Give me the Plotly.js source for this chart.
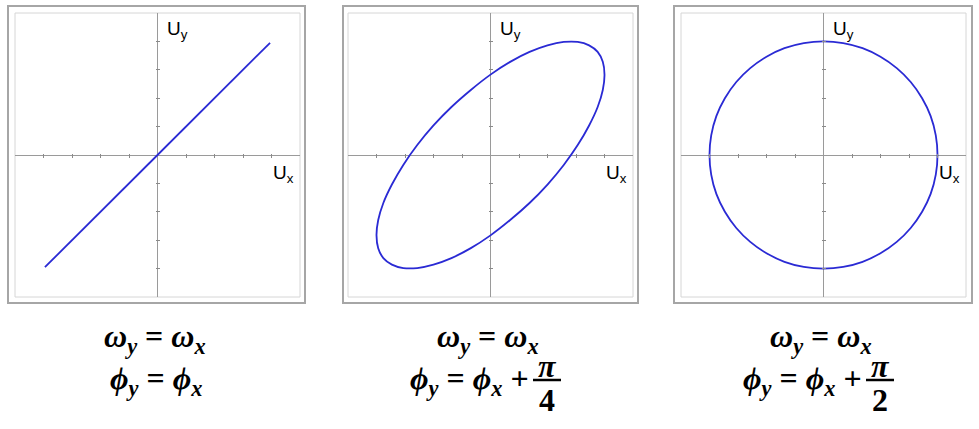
<!DOCTYPE html>
<html>
<head>
<meta charset="utf-8">
<script src="https://cdn.plot.ly/plotly-3.0.1.min.js"></script>
<style>html,body{margin:0;padding:0;background:#fff;}#chart{width:979px;height:429px;}</style>
</head>
<body>
<div id="chart"></div>
<script>
// ---------- data ----------
const axisRange = [-5, 5];
const tickVals = [-4, -3, -2, -1, 1, 2, 3, 4];

// panel 1: phi_y = phi_x  (straight line)
const lineX = [-3.95, 0, 3.95];
const lineY = [-3.95, 0, 3.95];

// panel 2: phi_y = phi_x + pi/4  (tilted ellipse)
const ellipseX = [4.00, 3.94, 3.76, 3.46, 3.06, 2.57, 2.00, 1.37, 0.69, 0.00, -0.69, -1.37,
  -2.00, -2.57, -3.06, -3.46, -3.76, -3.94, -4.00, -3.94, -3.76, -3.46, -3.06, -2.57,
  -2.00, -1.37, -0.69, 0.00, 0.69, 1.37, 2.00, 2.57, 3.06, 3.46, 3.76, 3.94, 4.00];
const ellipseY = [2.83, 2.29, 1.69, 1.04, 0.35, -0.35, -1.04, -1.69, -2.29, -2.83, -3.28, -3.63,
  -3.86, -3.98, -3.98, -3.86, -3.63, -3.28, -2.83, -2.29, -1.69, -1.04, -0.35, 0.35,
  1.04, 1.69, 2.29, 2.83, 3.28, 3.63, 3.86, 3.98, 3.98, 3.86, 3.63, 3.28, 2.83];

// panel 3: phi_y = phi_x + pi/2  (circle)
const circleX = [0.00, 0.69, 1.37, 2.00, 2.57, 3.06, 3.46, 3.76, 3.94, 4.00, 3.94, 3.76,
  3.46, 3.06, 2.57, 2.00, 1.37, 0.69, 0.00, -0.69, -1.37, -2.00, -2.57, -3.06,
  -3.46, -3.76, -3.94, -4.00, -3.94, -3.76, -3.46, -3.06, -2.57, -2.00, -1.37, -0.69, 0.00];
const circleY = [4.00, 3.94, 3.76, 3.46, 3.06, 2.57, 2.00, 1.37, 0.69, 0.00, -0.69, -1.37,
  -2.00, -2.57, -3.06, -3.46, -3.76, -3.94, -4.00, -3.94, -3.76, -3.46, -3.06, -2.57,
  -2.00, -1.37, -0.69, 0.00, 0.69, 1.37, 2.00, 2.57, 3.06, 3.46, 3.76, 3.94, 4.00];

const labelUx = 'U<sub>x</sub>';
const labelUy = 'U<sub>y</sub>';
const formulaOmega = '<b><i>ω<sub>y</sub></i> = <i>ω<sub>x</sub></i></b>';
const formulaPhi0 = '<b><i>ϕ<sub>y</sub></i> = <i>ϕ<sub>x</sub></i></b>';
const formulaPhiPlus = '<b><i>ϕ<sub>y</sub></i> = <i>ϕ<sub>x</sub></i> +</b>';
const fracNum = '<b><i>π</i></b>';
const fracDen = ['<b>4</b>', '<b>2</b>'];

// ---------- layout helpers (pixel -> paper) ----------
const W = 979, H = 429;
const fx = v => v / W;
const fy = v => 1 - v / H;

const inner = [[15, 300], [348, 633], [681, 966]];
const outer = [[8, 305], [343, 638], [674, 972]];
const innerY = [13, 297], outerY = [6, 303];
const centerYpx = 155;

const curveColor = '#2a2ad4';
const axisColor = '#9a9a9a';

const traces = [
  {x: lineX, y: lineY, xaxis: 'x', yaxis: 'y'},
  {x: ellipseX, y: ellipseY, xaxis: 'x2', yaxis: 'y2'},
  {x: circleX, y: circleY, xaxis: 'x3', yaxis: 'y3'}
].map(t => Object.assign(t, {
  type: 'scatter', mode: 'lines', hoverinfo: 'skip',
  line: {color: curveColor, width: 1.8, shape: 'spline', smoothing: 0.6}
}));

const layout = {
  width: W, height: H,
  margin: {l: 0, r: 0, t: 0, b: 0},
  paper_bgcolor: '#ffffff', plot_bgcolor: 'rgba(0,0,0,0)',
  showlegend: false,
  shapes: [], annotations: []
};

const sfx = ['', '2', '3'];
inner.forEach((ix, i) => {
  const cxpx = (ix[0] + ix[1]) / 2;
  layout['xaxis' + sfx[i]] = {
    domain: [fx(ix[0]), fx(ix[1])], range: axisRange, fixedrange: true,
    anchor: 'free', position: fy(centerYpx - 2), side: 'bottom',
    showgrid: false, showline: false, zeroline: true, zerolinecolor: axisColor, zerolinewidth: 1,
    tickmode: 'array', tickvals: tickVals, ticks: 'outside', ticklen: 4, tickwidth: 1,
    tickcolor: '#8a8a8a', showticklabels: false
  };
  layout['yaxis' + sfx[i]] = {
    domain: [fy(innerY[1]), fy(innerY[0])], range: axisRange, fixedrange: true,
    anchor: 'free', position: fx(cxpx + 2), side: 'left',
    showgrid: false, showline: false, zeroline: true, zerolinecolor: axisColor, zerolinewidth: 1,
    tickmode: 'array', tickvals: tickVals, ticks: 'outside', ticklen: 4, tickwidth: 1,
    tickcolor: '#8a8a8a', showticklabels: false
  };
  // inner frame
  layout.shapes.push({type: 'rect', xref: 'paper', yref: 'paper', layer: 'below',
    x0: fx(ix[0]), x1: fx(ix[1]), y0: fy(innerY[1]), y1: fy(innerY[0]),
    line: {color: '#d6d6d6', width: 1}});
  // outer frame
  const ox = outer[i];
  layout.shapes.push({type: 'rect', xref: 'paper', yref: 'paper', layer: 'below',
    x0: fx(ox[0]), x1: fx(ox[1]), y0: fy(outerY[1]), y1: fy(outerY[0]),
    line: {color: '#a6a6a6', width: 2}});

  const labFont = {family: 'Liberation Sans', size: 19, color: '#000'};
  layout.annotations.push({xref: 'paper', yref: 'paper', x: fx(cxpx + 7.5), y: fy(16),
    xanchor: 'left', yanchor: 'top', text: labelUy, showarrow: false, font: labFont});
  layout.annotations.push({xref: 'paper', yref: 'paper', x: fx(cxpx + 113.5), y: fy(160),
    xanchor: 'left', yanchor: 'top', text: labelUx, showarrow: false, font: labFont});

  const fFont = {family: 'Liberation Serif', size: 32, color: '#000'};
  layout.annotations.push({xref: 'paper', yref: 'paper', x: fx(cxpx - 2.5), y: fy(338),
    xanchor: 'center', yanchor: 'middle', text: formulaOmega, showarrow: false, font: fFont});
  if (i === 0) {
    layout.annotations.push({xref: 'paper', yref: 'paper', x: fx(cxpx - 2), y: fy(380),
      xanchor: 'center', yanchor: 'middle', text: formulaPhi0, showarrow: false, font: fFont});
  } else {
    layout.annotations.push({xref: 'paper', yref: 'paper', x: fx(cxpx + 40), y: fy(380),
      xanchor: 'right', yanchor: 'middle', text: formulaPhiPlus, showarrow: false, font: fFont});
    const fcx = cxpx + 56.5;
    layout.annotations.push({xref: 'paper', yref: 'paper', x: fx(fcx), y: fy(386),
      xanchor: 'center', yanchor: 'bottom', text: fracNum, showarrow: false, font: fFont});
    layout.annotations.push({xref: 'paper', yref: 'paper', x: fx(fcx), y: fy(380),
      xanchor: 'center', yanchor: 'top', text: fracDen[i - 1], showarrow: false, font: fFont});
    layout.shapes.push({type: 'line', xref: 'paper', yref: 'paper',
      x0: fx(fcx - 14), x1: fx(fcx + 14), y0: fy(380), y1: fy(380),
      line: {color: '#000', width: 2.5}});
  }
});

Plotly.newPlot('chart', traces, layout, {staticPlot: true, displayModeBar: false});
</script>
</body>
</html>
